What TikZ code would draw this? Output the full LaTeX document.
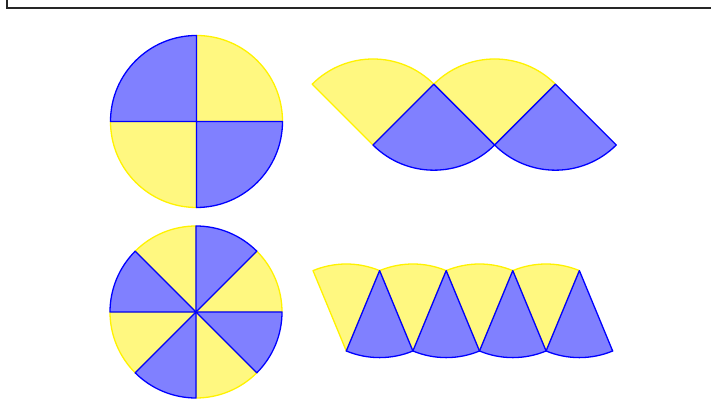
\documentclass[tikz,border=0pt]{standalone}
\usetikzlibrary{positioning}

\begin{document}
\begin{tikzpicture}[x=1pt, y=1pt,
  ysec/.style={draw=yellow, fill=yellow!50, line width=1.3pt, line join=round},
  bsec/.style={draw=blue, fill=blue!50, line width=1.3pt, line join=round},
  frame/.style={draw=black!85, line width=2pt}
]
  \useasboundingbox (0,0) rectangle (711,403);
  \draw[frame] (7,403) -- (7,395) -- (711,395);

  % circles cut into 4 and 8 pieces
  \coordinate (top) at (196.5,281.5);
  \coordinate (bot) at (196,91);
  \foreach \a in {0,180}
    \draw[ysec] (top) -- ++(\a:86) arc[start angle=\a, delta angle=90, radius=86] -- cycle;
  \foreach \a in {90,270}
    \draw[bsec] (top) -- ++(\a:86) arc[start angle=\a, delta angle=90, radius=86] -- cycle;
  \foreach \a in {0,90,180,270}
    \draw[ysec] (bot) -- ++(\a:86) arc[start angle=\a, delta angle=45, radius=86] -- cycle;
  \foreach \a in {45,135,225,315}
    \draw[bsec] (bot) -- ++(\a:86) arc[start angle=\a, delta angle=45, radius=86] -- cycle;

  % the pieces laid out in a row
  \foreach \i in {0,1} {
    \draw[ysec] (373+121.62*\i,258) -- ++(135:86) arc[start angle=135, end angle=45, radius=86] -- cycle;
  }
  \foreach \i in {0,1} {
    \draw[bsec] (433.81+121.62*\i,318.81) -- ++(225:86) arc[start angle=225, end angle=315, radius=86] -- cycle;
  }
  \foreach \i in {0,...,3} {
    \draw[ysec] (346.3+66.59*\i,52) -- ++(112.5:87) arc[start angle=112.5, end angle=67.5, radius=87] -- cycle;
  }
  \foreach \i in {0,...,3} {
    \draw[bsec] (379.6+66.59*\i,132.38) -- ++(247.5:87) arc[start angle=247.5, end angle=292.5, radius=87] -- cycle;
  }
\end{tikzpicture}
\end{document}
